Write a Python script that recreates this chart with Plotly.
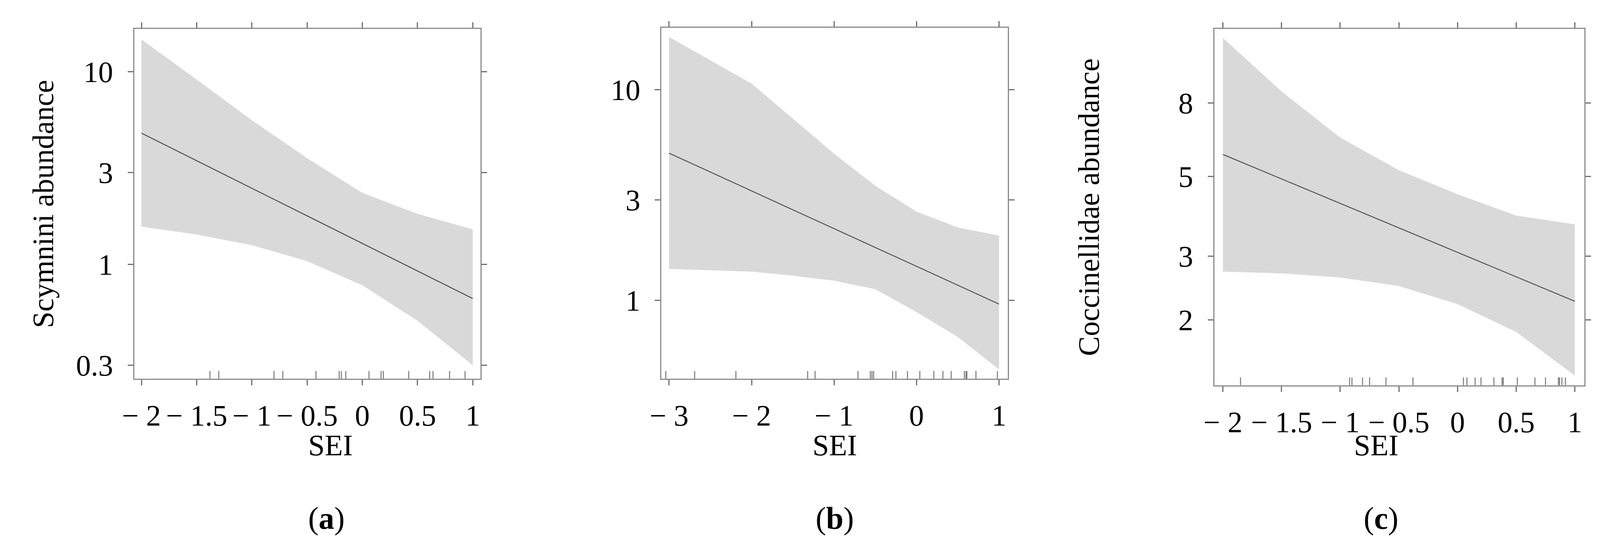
import plotly.graph_objects as go

# Panel (a) Scymnini
a_x = [-2, -1.5, -1, -0.5, 0, 0.5, 1]
a_upper = [14.7, 9.1, 5.6, 3.56, 2.35, 1.83, 1.52]
a_lower = [1.57, 1.43, 1.26, 1.04, 0.78, 0.51, 0.30]
a_line_x = [-2, 1]
a_line_y = [4.8, 0.665]
a_rug = [-1.38, -1.30, -0.80, -0.72, -0.42, -0.21, -0.19, -0.15, 0.06, 0.17, 0.19, 0.42, 0.61, 0.64, 0.79, 0.93]

# Panel (b)
b_x = [-3, -2, -1.5, -1, -0.5, 0, 0.5, 1]
b_upper = [17.8, 10.7, 7.3, 4.97, 3.5, 2.64, 2.22, 2.03]
b_lower = [1.41, 1.37, 1.31, 1.24, 1.13, 0.88, 0.67, 0.47]
b_line_x = [-3, 1]
b_line_y = [5.0, 0.96]
b_rug = [-3.04, -2.69, -2.19, -1.32, -1.23, -0.71, -0.56, -0.54, -0.52, -0.29, -0.25, -0.11, 0.04, 0.21, 0.32, 0.42, 0.58, 0.60, 0.61, 0.72, 0.98]

# Panel (c) Coccinellidae
c_x = [-2, -1.5, -1, -0.5, 0, 0.5, 1]
c_upper = [12.1, 8.6, 6.4, 5.2, 4.46, 3.89, 3.68]
c_lower = [2.72, 2.69, 2.62, 2.48, 2.21, 1.85, 1.40]
c_line_x = [-2, 1]
c_line_y = [5.75, 2.25]
c_rug = [-1.85, -0.92, -0.90, -0.81, -0.75, -0.61, -0.38, 0.05, 0.08, 0.15, 0.20, 0.31, 0.38, 0.39, 0.51, 0.66, 0.75, 0.86, 0.87, 0.89, 0.92]

a_xticks = [-2, -1.5, -1, -0.5, 0, 0.5, 1]
a_xlabels = ["− 2", "− 1.5", "− 1", "− 0.5", "0", "0.5", "1"]
b_xticks = [-3, -2, -1, 0, 1]
b_xlabels = ["− 3", "− 2", "− 1", "0", "1"]
c_xticks = a_xticks
c_xlabels = a_xlabels
a_yticks = [0.3, 1, 3, 10]
b_yticks = [1, 3, 10]
c_yticks = [2, 3, 5, 8]

panels = [
    dict(x=a_x, up=a_upper, lo=a_lower, lx=a_line_x, ly=a_line_y, rug=a_rug,
         xt=a_xticks, xl=a_xlabels, yt=a_yticks, xr=[-2.065, 1.07], yr=[-0.593, 1.222],
         dx=[0.0746, 0.2915], dy=[0.317, 0.953], ytitle="Scymnini abundance", lab="a"),
    dict(x=b_x, up=b_upper, lo=b_lower, lx=b_line_x, ly=b_line_y, rug=b_rug,
         xt=b_xticks, xl=b_xlabels, yt=b_yticks, xr=[-3.092, 1.105], yr=[-0.372, 1.294],
         dx=[0.4049, 0.6218], dy=[0.317, 0.955], ytitle=None, lab="b"),
    dict(x=c_x, up=c_upper, lo=c_lower, lx=c_line_x, ly=c_line_y, rug=c_rug,
         xt=c_xticks, xl=c_xlabels, yt=c_yticks, xr=[-2.073, 1.08], yr=[0.119, 1.108],
         dx=[0.7513, 0.983], dy=[0.305, 0.953], ytitle="Coccinellidae abundance", lab="c"),
]

FONT = "Liberation Serif"
FS = 76
fig = go.Figure()
annotations = []
shapes = []
for i, p in enumerate(panels):
    n = "" if i == 0 else str(i + 1)
    xa, ya = "x" + n, "y" + n
    fig.add_trace(go.Scatter(x=p["x"] + p["x"][::-1], y=p["up"] + p["lo"][::-1],
                             fill="toself", fillcolor="#d9d9d9", mode="none",
                             xaxis=xa, yaxis=ya, showlegend=False))
    fig.add_trace(go.Scatter(x=p["lx"], y=p["ly"], mode="lines",
                             line=dict(color="#555555", width=2.5), xaxis=xa, yaxis=ya, showlegend=False))
    for r in p["rug"]:
        shapes.append(dict(type="line", xref=xa, yref=ya + " domain", x0=r, x1=r, y0=0, y1=0.022,
                           line=dict(color="#777777", width=2.5)))
    axcommon = dict(showgrid=False, zeroline=False, showline=True, linecolor="#8c8c8c", linewidth=3,
                    mirror="ticks", ticks="outside", ticklen=14, tickwidth=2.5, tickcolor="#6e6e6e",
                    tickfont=dict(family=FONT, size=FS, color="#000"))
    fig.update_layout(**{
        ("xaxis" + n): dict(axcommon, domain=p["dx"], range=p["xr"], tickvals=p["xt"], ticktext=p["xl"],
                           anchor=ya, ticklabelstandoff=12),
        ("yaxis" + n): dict(axcommon, domain=p["dy"], range=p["yr"], type="log", tickvals=p["yt"],
                           ticktext=[str(v) for v in p["yt"]], anchor=xa, ticklabelstandoff=22),
    })
    cx = (p["dx"][0] + p["dx"][1]) / 2
    annotations.append(dict(text="SEI", x=cx, y=0.165, xref="paper", yref="paper", showarrow=False,
                            font=dict(family=FONT, size=FS, color="#000")))
    annotations.append(dict(text="(<b>%s</b>)" % p["lab"], x=cx, y=0.03, xref="paper", yref="paper",
                            showarrow=False, font=dict(family=FONT, size=80, color="#000")))
    if p["ytitle"]:
        annotations.append(dict(text=p["ytitle"], x=p["dx"][0] - 0.068, y=(p["dy"][0] + p["dy"][1]) / 2,
                                xref="paper", yref="paper", textangle=-90, showarrow=False,
                                font=dict(family=FONT, size=FS, color="#000")))

fig.update_layout(width=4117, height=1415, margin=dict(l=0, r=0, t=0, b=0),
                  plot_bgcolor="white", paper_bgcolor="white",
                  annotations=annotations, shapes=shapes)
fig.write_html("out.html")
